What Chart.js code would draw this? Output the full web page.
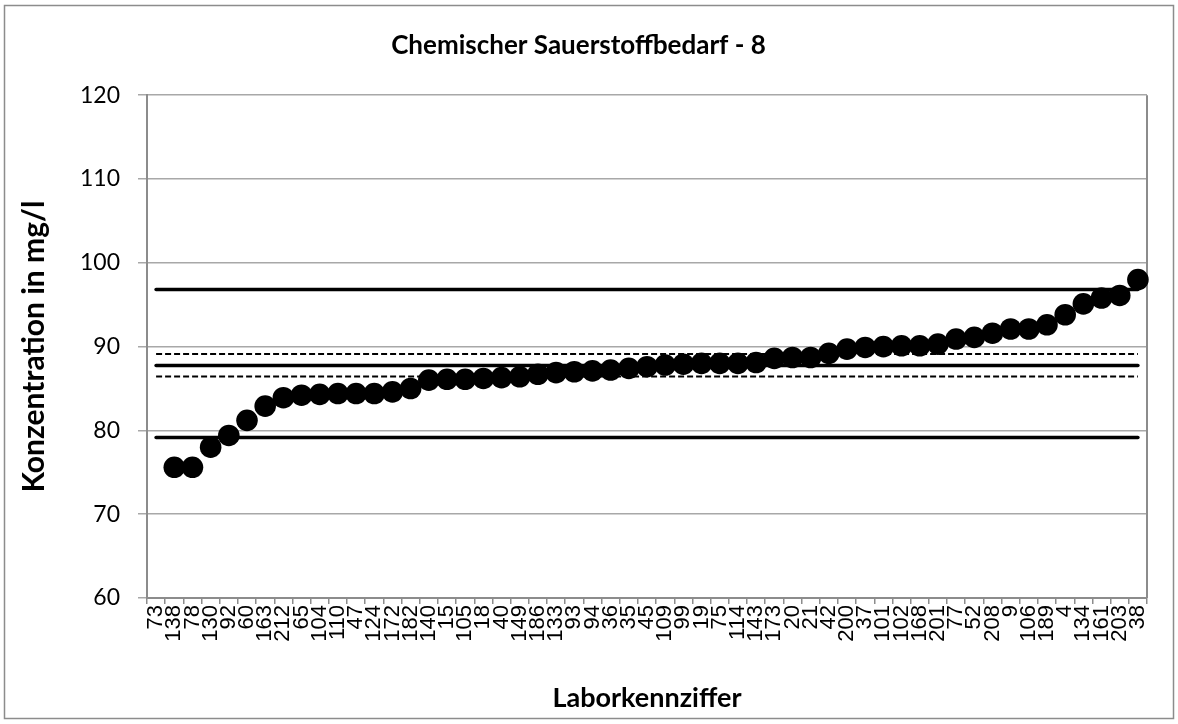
<!DOCTYPE html>
<html>
<head>
<meta charset="utf-8">
<script src="https://cdn.jsdelivr.net/npm/chart.js@4"></script>
<style>
  html, body { margin: 0; padding: 0; background: #ffffff; }
  #wrap { width: 1178px; height: 724px; }
</style>
</head>
<body>
<div id="wrap"><canvas id="c" width="1178" height="724"></canvas></div>
<script>
// Laboratory codes (x-axis categories)
const labs = ['73','138','78','130','92','60','163','212','65','104','110','47','124','172','182','140','15','105','18','40','149','186','133','93','94','36','35','45','109','99','19','75','114','143','173','20','21','42','200','37','101','102','168','201','77','52','208','9','106','189','4','134','161','203','38'];

// Measured concentrations in mg/l (73 lies outside the plotted range)
const values = [null,75.6,75.6,78.0,79.4,81.2,82.9,83.9,84.2,84.3,84.4,84.4,84.4,84.6,85.0,86.0,86.1,86.1,86.2,86.3,86.4,86.7,86.9,87.0,87.1,87.2,87.4,87.6,87.8,87.9,88.0,88.0,88.0,88.1,88.6,88.7,88.7,89.2,89.7,89.9,90.0,90.1,90.1,90.3,90.9,91.1,91.6,92.1,92.1,92.6,93.8,95.1,95.8,96.1,98.0];

// Reference levels
const assignedValue = 87.75;
const upperTolerance = 96.8;
const lowerTolerance = 79.15;
const upperConfidence = 89.12;
const lowerConfidence = 86.43;

// y-axis ticks
const yMin = 60, yMax = 120, yStep = 10;

const first = labs[0], last = labs[labs.length - 1];
function hline(v) { return [{x: first, y: v}, {x: last, y: v}]; }

const frame = {
  id: 'frame',
  beforeDraw(chart) {
    const ctx = chart.ctx;
    ctx.save();
    ctx.fillStyle = '#ffffff';
    ctx.fillRect(0, 0, chart.width, chart.height);
    ctx.strokeStyle = '#8c8c8c';
    ctx.lineWidth = 1.5;
    ctx.strokeRect(4.5, 5.5, 1169, 713);
    ctx.restore();
  },
  beforeDatasetsDraw(chart) {
    const a = chart.chartArea, ctx = chart.ctx;
    ctx.save();
    ctx.strokeStyle = '#8c8c8c';
    ctx.lineWidth = 2;
    ctx.beginPath();
    ctx.moveTo(a.right, a.top);
    ctx.lineTo(a.right, a.bottom);
    ctx.stroke();
    ctx.restore();
  }
};

const solid = {borderColor: '#000', borderWidth: 3.5, pointRadius: 0, fill: false, borderCapStyle: 'round', showLine: true};
const dashed = {borderColor: '#000', borderWidth: 2, pointRadius: 0, fill: false, borderDash: [6, 3], showLine: true};

new Chart(document.getElementById('c'), {
  type: 'line',
  plugins: [frame],
  data: {
    labels: labs,
    datasets: [
      {label: 'Messwert', data: values, showLine: false, pointRadius: 10.8, pointHoverRadius: 10.8,
       pointBackgroundColor: '#000', pointBorderColor: '#000', pointBorderWidth: 0, order: 0},
      Object.assign({label: 'Sollwert', data: hline(assignedValue), order: 1}, solid),
      Object.assign({label: 'Obere Toleranzgrenze', data: hline(upperTolerance), order: 1}, solid),
      Object.assign({label: 'Untere Toleranzgrenze', data: hline(lowerTolerance), order: 1}, solid),
      Object.assign({label: 'Obere Vertrauensgrenze', data: hline(upperConfidence), order: 1}, dashed),
      Object.assign({label: 'Untere Vertrauensgrenze', data: hline(lowerConfidence), order: 1}, dashed)
    ]
  },
  options: {
    responsive: false,
    animation: false,
    devicePixelRatio: 1,
    layout: {padding: {left: 10, right: 31, top: 0, bottom: 10}},
    plugins: {
      legend: {display: false},
      tooltip: {enabled: false},
      title: {
        display: true,
        text: 'Chemischer Sauerstoffbedarf - 8',
        color: '#000',
        font: {family: 'Lato', size: 26, weight: 'bold'},
        padding: {top: 30, bottom: 34}
      }
    },
    scales: {
      x: {
        type: 'category',
        offset: true,
        grid: {offset: true, drawOnChartArea: false, drawTicks: true, tickLength: 6, color: '#8c8c8c', lineWidth: 1.5},
        border: {color: '#8c8c8c', width: 2},
        ticks: {autoSkip: false, maxRotation: 90, minRotation: 90, color: '#000', padding: 1,
                font: {family: 'Liberation Sans', size: 22}},
        title: {display: true, text: 'Laborkennziffer', color: '#000',
                font: {family: 'Lato', size: 27, weight: 'bold'}, padding: {top: 0, bottom: 0}},
        afterFit(scale) { scale.height = 116; }
      },
      y: {
        min: yMin, max: yMax,
        grid: {color: '#a8a8a8', lineWidth: 1.5, tickLength: 9},
        border: {color: '#8c8c8c', width: 2},
        ticks: {stepSize: yStep, color: '#000', padding: 18, font: {family: 'Lato', size: 23}},
        title: {display: true, text: 'Konzentration in mg/l', color: '#000',
                font: {family: 'Lato', size: 30, weight: 'bold'}, padding: {top: 6, bottom: 0}},
        afterFit(scale) { scale.width = 137; }
      }
    }
  }
});
</script>
</body>
</html>
